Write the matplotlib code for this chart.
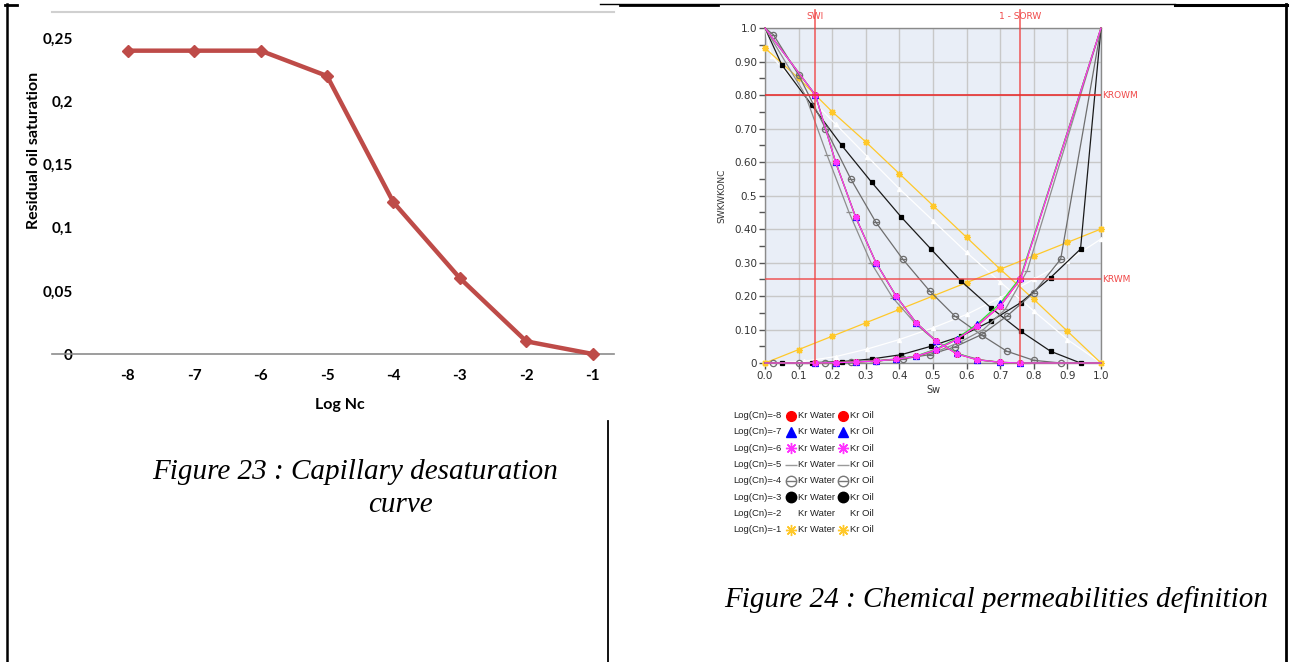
import matplotlib
matplotlib.use('Agg')
import matplotlib.pyplot as plt
import numpy as np
from matplotlib.path import Path

W, H = 1290, 662

# Figure 23: capillary desaturation curve
log_nc = [-8, -7, -6, -5, -4, -3, -2, -1]
sor = [0.24, 0.24, 0.24, 0.22, 0.12, 0.06, 0.01, 0.0]
sor_ticks = [0, 0.05, 0.1, 0.15, 0.2, 0.25]
sor_ticklabels = ['0', '0,05', '0,1', '0,15', '0,2', '0,25']

# Figure 24: relative permeability curves, one set per Log(Cn)
sw_m8 = [0.0, 0.15, 0.21, 0.27, 0.33, 0.39, 0.45, 0.51, 0.57, 0.63, 0.70, 0.76, 1.0]
krw_m8 = [0.0, 0.0, 0.001, 0.003, 0.006, 0.011, 0.02, 0.04, 0.07, 0.11, 0.17, 0.25, 1.0]
kro_m8 = [1.0, 0.80, 0.60, 0.435, 0.30, 0.20, 0.12, 0.065, 0.028, 0.01, 0.002, 0.0, 0.0]

sw_m7 = [0.0, 0.15, 0.21, 0.27, 0.33, 0.39, 0.45, 0.51, 0.57, 0.63, 0.70, 0.76, 1.0]
krw_m7 = [0.0, 0.0, 0.001, 0.003, 0.006, 0.011, 0.021, 0.042, 0.073, 0.115, 0.178, 0.255, 1.0]
kro_m7 = [1.0, 0.80, 0.60, 0.435, 0.30, 0.20, 0.12, 0.066, 0.03, 0.01, 0.002, 0.0, 0.0]

sw_m6 = [0.0, 0.15, 0.21, 0.27, 0.33, 0.39, 0.45, 0.51, 0.57, 0.63, 0.70, 0.76, 1.0]
krw_m6 = [0.0, 0.0, 0.001, 0.003, 0.006, 0.011, 0.02, 0.04, 0.07, 0.11, 0.17, 0.25, 1.0]
kro_m6 = [1.0, 0.80, 0.60, 0.435, 0.30, 0.20, 0.12, 0.065, 0.028, 0.01, 0.002, 0.0, 0.0]

sw_m5 = [0.0, 0.12, 0.185, 0.25, 0.315, 0.38, 0.45, 0.515, 0.58, 0.65, 0.715, 0.78, 1.0]
krw_m5 = [0.0, 0.0, 0.001, 0.003, 0.006, 0.011, 0.02, 0.036, 0.062, 0.10, 0.16, 0.275, 1.0]
kro_m5 = [1.0, 0.80, 0.62, 0.45, 0.30, 0.195, 0.115, 0.06, 0.025, 0.008, 0.001, 0.0, 0.0]

sw_m4 = [0.0, 0.025, 0.10, 0.18, 0.255, 0.33, 0.41, 0.49, 0.565, 0.645, 0.72, 0.80, 0.88, 1.0]
krw_m4 = [0.0, 0.0, 0.0, 0.001, 0.003, 0.006, 0.012, 0.025, 0.048, 0.085, 0.14, 0.21, 0.31, 1.0]
kro_m4 = [1.0, 0.98, 0.86, 0.70, 0.55, 0.42, 0.31, 0.215, 0.14, 0.083, 0.035, 0.008, 0.0, 0.0]

sw_m3 = [0.0, 0.05, 0.139, 0.228, 0.317, 0.406, 0.494, 0.583, 0.672, 0.761, 0.85, 0.939, 1.0]
krw_m3 = [0.0, 0.0, 0.001, 0.004, 0.012, 0.025, 0.05, 0.08, 0.125, 0.18, 0.255, 0.34, 1.0]
kro_m3 = [1.0, 0.89, 0.77, 0.65, 0.54, 0.435, 0.34, 0.245, 0.165, 0.095, 0.035, 0.0, 0.0]

sw_m2 = [0.0, 0.02, 0.115, 0.21, 0.305, 0.40, 0.50, 0.60, 0.70, 0.80, 0.90, 1.0]
krw_m2 = [0.0, 0.0, 0.005, 0.019, 0.042, 0.07, 0.105, 0.145, 0.195, 0.25, 0.305, 0.37]
kro_m2 = [1.0, 0.915, 0.81, 0.713, 0.616, 0.52, 0.425, 0.33, 0.242, 0.155, 0.07, 0.0]

sw_m1 = [0.0, 0.1, 0.2, 0.3, 0.4, 0.5, 0.6, 0.7, 0.8, 0.9, 1.0]
krw_m1 = [0.0, 0.04, 0.08, 0.12, 0.16, 0.20, 0.24, 0.28, 0.32, 0.36, 0.40]
kro_m1 = [0.94, 0.85, 0.75, 0.66, 0.565, 0.47, 0.375, 0.28, 0.19, 0.095, 0.0]

kr_ticks = [0, 0.1, 0.2, 0.3, 0.4, 0.5, 0.6, 0.7, 0.8, 0.9, 1.0]
kr_ticklabels = ['0', '0.10', '0.20', '0.30', '0.40', '0.5', '0.60', '0.70', '0.80', '0.90', '1.0']
sw_ticklabels = ['0.0', '0.1', '0.2', '0.3', '0.4', '0.5', '0.6', '0.7', '0.8', '0.9', '1.0']

swi, one_minus_sorw = 0.15, 0.76
krowm, krwm = 0.80, 0.25

legend_names = ['Log(Cn)=-8', 'Log(Cn)=-7', 'Log(Cn)=-6', 'Log(Cn)=-5',
                'Log(Cn)=-4', 'Log(Cn)=-3', 'Log(Cn)=-2', 'Log(Cn)=-1']


def px(x0, y0, x1, y1):
    # pixel box -> figure fraction rect
    return [x0 / W, 1 - y1 / H, (x1 - x0) / W, (y1 - y0) / H]


# circle with a bar through it
circ_bar = Path.make_compound_path(Path.unit_circle(),
                                   Path([(-1, 0), (1, 0)], [Path.MOVETO, Path.LINETO]))
aster = (8, 2, 0)

fig = plt.figure(figsize=(W / 100, H / 100), dpi=100)

# ---------------- Figure 23 ----------------
ax1 = fig.add_axes(px(52, 12, 614, 354))
ax1.plot(log_nc, sor, color='#BE4B48', lw=3.2, marker='D', ms=6.5,
         mfc='#BE4B48', mec='#BE4B48', clip_on=False, zorder=5)
ax1.set_xlim(-9.14, -0.68)
ax1.set_ylim(0, 0.2706)
ax1.set_xticks(log_nc)
ax1.set_xticklabels([str(v) for v in log_nc])
ax1.set_yticks(sor_ticks)
ax1.set_yticklabels(sor_ticklabels)
for s in ['left', 'right']:
    ax1.spines[s].set_visible(False)
ax1.spines['top'].set_color('#D0D0D0')
ax1.spines['top'].set_linewidth(1.5)
ax1.spines['bottom'].set_color('#8C8C8C')
ax1.spines['bottom'].set_linewidth(1.2)
ax1.tick_params(axis='y', length=0, pad=-15)
ax1.tick_params(axis='x', length=0, pad=11)
for lab in ax1.get_xticklabels() + ax1.get_yticklabels():
    lab.set_fontfamily('Lato')
    lab.set_fontweight('bold')
    lab.set_fontsize(11)
ax1.set_facecolor('none')

# ---------------- Figure 24 ----------------
ax2 = fig.add_axes(px(765, 28, 1101, 363))
ax2.set_facecolor('#E9EEF7')
ax2.set_xlim(0, 1)
ax2.set_ylim(0, 1)
ax2.set_xticks(kr_ticks)
ax2.set_xticklabels(sw_ticklabels)
ax2.set_yticks(kr_ticks)
ax2.set_yticklabels(kr_ticklabels)
ax2.set_yticks(np.arange(0.05, 1.0, 0.1), minor=True)
ax2.grid(True, color='#C8C8C8', lw=1)
ax2.set_axisbelow(True)
for s in ax2.spines.values():
    s.set_color('#8A8A8A')
    s.set_linewidth(1)
ax2.tick_params(which='both', length=4, width=1, color='#555555',
                labelsize=7.5, labelcolor='#333333', pad=1.5)
ax2.set_xlabel('Sw', fontsize=7, color='#333333', labelpad=3)
ax2.set_ylabel('SWKWKONC', fontsize=6.5, color='#333333', labelpad=6)

series = [
    (sw_m2, krw_m2, kro_m2, 'white', '^', 'white', 'white', 3, slice(1, None)),
    (sw_m1, krw_m1, kro_m1, '#FFC82A', aster, '#FFC82A', '#FFC82A', 5, None),
    (sw_m3, krw_m3, kro_m3, '#1A1A1A', 's', 'black', 'black', 3.5, slice(1, -1)),
    (sw_m4, krw_m4, kro_m4, '#6E6E6E', circ_bar, 'none', '#6E6E6E', 4.5, slice(1, -1)),
    (sw_m5, krw_m5, kro_m5, '#8E8E8E', '_', '#8E8E8E', '#8E8E8E', 5, slice(1, -1)),
    (sw_m8, krw_m8, kro_m8, 'red', 'o', 'red', 'red', 4, slice(1, -1)),
    (sw_m7, krw_m7, kro_m7, '#33DD33', '^', 'blue', 'blue', 4, slice(1, -1)),
    (sw_m6, krw_m6, kro_m6, '#FF33FF', aster, '#FF33FF', '#FF33FF', 5, slice(1, -1)),
]
for sw, krw, kro, lc, mk, mfc, mec, ms, every in series:
    for kr in (krw, kro):
        ax2.plot(sw, kr, color=lc, lw=0.9, marker=mk, mfc=mfc, mec=mec, ms=ms,
                 mew=0.9, markevery=every, clip_on=False, zorder=3)

red = '#F04848'
ax2.axvline(swi, ymin=0, ymax=1.054, color=red, lw=1.2, alpha=0.85, clip_on=False, zorder=4)
ax2.axvline(one_minus_sorw, ymin=0, ymax=1.054, color=red, lw=1.2, alpha=0.85,
            clip_on=False, zorder=4)
ax2.axhline(krowm, color='#E83030', lw=1.2, zorder=4)
ax2.axhline(krwm, color=red, lw=1.2, alpha=0.85, zorder=4)
xt = ax2.get_xaxis_transform()
yt = ax2.get_yaxis_transform()
ax2.text(swi, 1.033, 'SWI', transform=xt, color=red, fontsize=6.5, ha='center', va='center')
ax2.text(one_minus_sorw, 1.033, '1 - SORW', transform=xt, color=red, fontsize=6.5,
         ha='center', va='center')
ax2.text(1.003, krowm, 'KROWM', transform=yt, color=red, fontsize=6.5, ha='left', va='center')
ax2.text(1.003, krwm, 'KRWM', transform=yt, color=red, fontsize=6.5, ha='left', va='center')

# ---------------- overlay in pixel coords: frame, legend, captions ----------------
ov = fig.add_axes([0, 0, 1, 1])
ov.set_xlim(0, W)
ov.set_ylim(H, 0)
ov.axis('off')
ov.patch.set_visible(False)

ov.plot([5, 17], [5, 5], color='black', lw=2)
ov.plot([600, 1175], [4, 4], color='black', lw=1)
ov.plot([620, 718], [5, 5], color='black', lw=2)
ov.plot([1175, 1287], [5, 5], color='black', lw=2.2)
ov.plot([7, 7], [4, H], color='black', lw=1.8)
ov.plot([1286, 1286], [4, H], color='black', lw=2)
ov.plot([607.5, 607.5], [421, H], color='black', lw=1.3)

# axis titles of figure 23
ov.text(34, 150, 'Residual oil saturation', rotation=90, ha='center', va='center',
        fontfamily='Lato', fontweight='bold', fontsize=11.5)
ov.text(340, 405, 'Log Nc', ha='center', va='center', fontfamily='Lato',
        fontweight='bold', fontsize=11.5)

# legend of figure 24
leg_markers = [
    dict(marker='o', mfc='red', mec='red', ms=7),
    dict(marker='^', mfc='blue', mec='blue', ms=7),
    dict(marker=aster, mfc='#FF33FF', mec='#FF33FF', ms=8),
    dict(marker='_', mfc='#9A9A9A', mec='#9A9A9A', ms=8),
    dict(marker=circ_bar, mfc='none', mec='#777777', ms=7.5),
    dict(marker='o', mfc='black', mec='black', ms=7.5),
    None,
    dict(marker=aster, mfc='#FFC82A', mec='#FFC82A', ms=8),
]
for i, name in enumerate(legend_names):
    y = 415.7 + i * 16.3
    ov.text(733, y, name, fontsize=6.8, fontfamily='Liberation Sans', color='#222222',
            ha='left', va='center')
    ov.text(797.5, y, 'Kr Water', fontsize=6.8, fontfamily='Liberation Sans',
            color='#222222', ha='left', va='center')
    ov.text(849.5, y, 'Kr Oil', fontsize=6.8, fontfamily='Liberation Sans',
            color='#222222', ha='left', va='center')
    mk = leg_markers[i]
    if mk is not None:
        for xm in (790.5, 842.5):
            ov.plot([xm], [y], ls='none', mew=1, **mk)

# captions
ov.text(355, 472, 'Figure 23 : Capillary desaturation', fontfamily='Liberation Serif',
        style='italic', fontsize=21, ha='center', va='center')
ov.text(400, 505, 'curve', fontfamily='Liberation Serif', style='italic', fontsize=21,
        ha='center', va='center')
ov.text(996, 600, 'Figure 24 : Chemical permeabilities definition',
        fontfamily='Liberation Serif', style='italic', fontsize=21, ha='center', va='center')

fig.savefig('out.png', dpi=100)
